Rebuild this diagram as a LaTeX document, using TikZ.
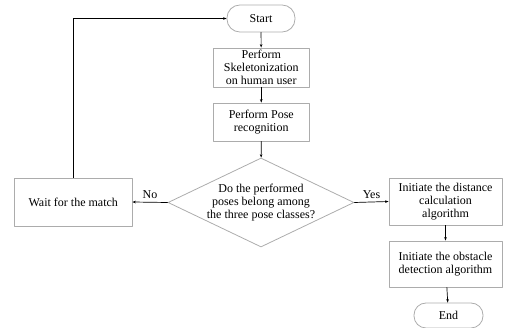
\documentclass[tikz,border=0pt]{standalone}
\usepackage{fontspec}
\setmainfont{Liberation Serif}
\usetikzlibrary{arrows.meta,shapes.geometric}

\begin{document}
\begin{tikzpicture}[line cap=round,line join=round,>={Stealth[length=3.5pt,width=2.6pt]},x=1pt,y=-1pt,
	procbox/.style={draw=gray!65,line width=0.8pt,align=center,inner sep=0pt,font=\fontsize{12}{12.7}\selectfont},
	termbox/.style={procbox,rounded corners=12.9pt},
	decbox/.style={procbox,diamond,aspect=2.1},
	flow/.style={->,line width=0.7pt,black}]
	\useasboundingbox (0,0) rectangle (507,328);
	\node[termbox,minimum width=68pt,minimum height=27pt] (start) at (261,18.5) {Start};
	\node[procbox,minimum width=95.5pt,minimum height=39pt] (skel) at (261.25,67.5) {Perform\\Skeletonization\\on human user};
	\node[procbox,minimum width=95.5pt,minimum height=38pt] (pose) at (261.25,122) {Perform Pose\\recognition};
	\node[decbox,minimum width=186pt,minimum height=89pt] (dec) at (261,202.5) {Do the performed\\poses belong among\\the three pose classes?};
	\node[procbox,minimum width=117.5pt,minimum height=48pt] (wait) at (73.25,202) {Wait for the match};
	\node[procbox,minimum width=113pt,minimum height=47pt] (dist) at (445.5,201.5) {Initiate the distance\\calculation\\algorithm};
	\node[procbox,minimum width=113pt,minimum height=46pt] (obst) at (445.5,264) {Initiate the obstacle\\detection algorithm};
	\node[termbox,rounded corners=12pt,minimum width=69pt,minimum height=25pt] (stop) at (448.5,315.5) {End};
	\draw[flow] (start) -- (skel);
	\draw[flow] (skel) -- (pose);
	\draw[flow] (pose) -- (dec);
	\draw[flow] (dec.west) -- node[above,font=\fontsize{12}{12.7}\selectfont] {No} (wait.east);
	\draw[flow] (dec.east) -- node[above,font=\fontsize{12}{12.7}\selectfont] {Yes} (dist.west);
	\draw[flow] (dist) -- (obst);
	\draw[flow] (obst) -- (stop);
	\draw[flow] (wait.north) |- (start.west);
\end{tikzpicture}
\end{document}
